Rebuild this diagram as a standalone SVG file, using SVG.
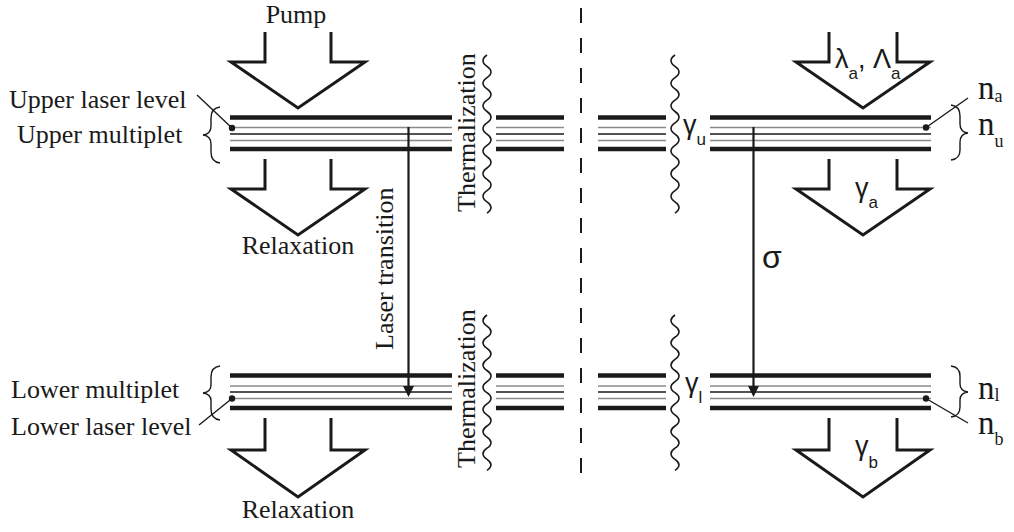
<svg xmlns="http://www.w3.org/2000/svg" width="1014" height="532" viewBox="0 0 1014 532">
  <style>
    .thick { stroke: #1a1a1a; stroke-width: 4.5; fill: none; }
    .gray { stroke: #8a8a8a; stroke-width: 1.3; fill: none; }
    .thin { stroke: #1a1a1a; stroke-width: 1.3; fill: none; }
    .outline { stroke: #1a1a1a; stroke-width: 3; fill: none; stroke-linejoin: miter; }
    .wave { stroke: #1a1a1a; stroke-width: 1.6; fill: none; }
    .brace { stroke: #1a1a1a; stroke-width: 1.4; fill: none; }
    .lead { stroke: #1a1a1a; stroke-width: 1.4; fill: none; }
    .vline { stroke: #1a1a1a; stroke-width: 2.2; fill: none; }
    .serif { font-family: "Liberation Serif", "Times New Roman", serif; font-size: 26px; fill: #1a1a1a; }
    .nlab { font-family: "Liberation Serif", "Times New Roman", serif; font-size: 33px; fill: #1a1a1a; }
    .nsub { font-family: "Liberation Serif", "Times New Roman", serif; font-size: 18px; fill: #1a1a1a; }
    .greek { font-family: "Liberation Sans", "DejaVu Sans", sans-serif; font-size: 27px; fill: #1a1a1a; }
    .gsub { font-family: "Liberation Sans", "DejaVu Sans", sans-serif; font-size: 17px; fill: #1a1a1a; }
  </style>

  <!-- divider between the level scheme and the rate model -->
  <line x1="581" y1="8" x2="581" y2="473" stroke="#1a1a1a" stroke-width="2" stroke-dasharray="15 15"/>

  <!-- upper multiplet, left scheme -->
  <g id="upper-left-band">
    <line class="thick" x1="230" y1="117.5" x2="452" y2="117.5"/>
    <line class="gray" x1="230" y1="127.5" x2="452" y2="127.5"/>
    <line class="thin" x1="230" y1="134" x2="452" y2="134"/>
    <line class="gray" x1="230" y1="140.5" x2="452" y2="140.5"/>
    <line class="thick" x1="230" y1="149" x2="452" y2="149"/>
  </g>
  <g id="upper-mid-left-band">
    <line class="thick" x1="496" y1="117.5" x2="564" y2="117.5"/>
    <line class="gray" x1="496" y1="127.5" x2="564" y2="127.5"/>
    <line class="thin" x1="496" y1="134" x2="564" y2="134"/>
    <line class="gray" x1="496" y1="140.5" x2="564" y2="140.5"/>
    <line class="thick" x1="496" y1="149" x2="564" y2="149"/>
  </g>
  <g id="upper-mid-right-band">
    <line class="thick" x1="598" y1="117.5" x2="666" y2="117.5"/>
    <line class="gray" x1="598" y1="127.5" x2="666" y2="127.5"/>
    <line class="thin" x1="598" y1="134" x2="666" y2="134"/>
    <line class="gray" x1="598" y1="140.5" x2="666" y2="140.5"/>
    <line class="thick" x1="598" y1="149" x2="666" y2="149"/>
  </g>
  <g id="upper-right-band">
    <line class="thick" x1="710" y1="117.5" x2="931" y2="117.5"/>
    <line class="gray" x1="710" y1="127.5" x2="931" y2="127.5"/>
    <line class="thin" x1="710" y1="134" x2="931" y2="134"/>
    <line class="gray" x1="710" y1="140.5" x2="931" y2="140.5"/>
    <line class="thick" x1="710" y1="149" x2="931" y2="149"/>
  </g>

  <!-- lower multiplet -->
  <g id="lower-left-band">
    <line class="thick" x1="230" y1="375.5" x2="452" y2="375.5"/>
    <line class="gray" x1="230" y1="386" x2="452" y2="386"/>
    <line class="thin" x1="230" y1="392" x2="452" y2="392"/>
    <line class="gray" x1="230" y1="398.5" x2="452" y2="398.5"/>
    <line class="thick" x1="230" y1="408" x2="452" y2="408"/>
  </g>
  <g id="lower-mid-left-band">
    <line class="thick" x1="496" y1="375.5" x2="564" y2="375.5"/>
    <line class="gray" x1="496" y1="386" x2="564" y2="386"/>
    <line class="thin" x1="496" y1="392" x2="564" y2="392"/>
    <line class="gray" x1="496" y1="398.5" x2="564" y2="398.5"/>
    <line class="thick" x1="496" y1="408" x2="564" y2="408"/>
  </g>
  <g id="lower-mid-right-band">
    <line class="thick" x1="598" y1="375.5" x2="666" y2="375.5"/>
    <line class="gray" x1="598" y1="386" x2="666" y2="386"/>
    <line class="thin" x1="598" y1="392" x2="666" y2="392"/>
    <line class="gray" x1="598" y1="398.5" x2="666" y2="398.5"/>
    <line class="thick" x1="598" y1="408" x2="666" y2="408"/>
  </g>
  <g id="lower-right-band">
    <line class="thick" x1="710" y1="375.5" x2="931" y2="375.5"/>
    <line class="gray" x1="710" y1="386" x2="931" y2="386"/>
    <line class="thin" x1="710" y1="392" x2="931" y2="392"/>
    <line class="gray" x1="710" y1="398.5" x2="931" y2="398.5"/>
    <line class="thick" x1="710" y1="408" x2="931" y2="408"/>
  </g>

  <!-- thermalization wavy lines -->
  <g id="waves">
    <path class="wave" d="M487,55 q-8,5.65 0,11.3 t0,11.3 t0,11.3 t0,11.3 t0,11.3 t0,11.3 t0,11.3 t0,11.3 t0,11.3 t0,11.3 t0,11.3 t0,11.3 t0,11.3 t0,11.3"/>
    <path class="wave" d="M487,315 q-8,5.55 0,11.1 t0,11.1 t0,11.1 t0,11.1 t0,11.1 t0,11.1 t0,11.1 t0,11.1 t0,11.1 t0,11.1 t0,11.1 t0,11.1 t0,11.1 t0,11.1"/>
    <path class="wave" d="M675,55 q-8,5.65 0,11.3 t0,11.3 t0,11.3 t0,11.3 t0,11.3 t0,11.3 t0,11.3 t0,11.3 t0,11.3 t0,11.3 t0,11.3 t0,11.3 t0,11.3 t0,11.3"/>
    <path class="wave" d="M675,315 q-8,5.55 0,11.1 t0,11.1 t0,11.1 t0,11.1 t0,11.1 t0,11.1 t0,11.1 t0,11.1 t0,11.1 t0,11.1 t0,11.1 t0,11.1 t0,11.1 t0,11.1"/>
  </g>

  <!-- block arrows: pumping and relaxation -->
  <g id="pump-arrow"><path class="outline" d="M265,32 V62 H231 L298,108 L365,62 H331 V32"/></g>
  <g id="upper-relax-arrow"><path class="outline" d="M265,159 V189 H231 L298,235 L365,189 H331 V159"/></g>
  <g id="lower-relax-arrow"><path class="outline" d="M265,418 V450 H231 L298,497 L365,450 H331 V418"/></g>
  <g id="rate-a-in-arrow"><path class="outline" d="M829,32 V62 H796 L863,108 L930,62 H897 V32"/></g>
  <g id="rate-a-out-arrow"><path class="outline" d="M829,159 V189 H796 L863,235 L930,189 H897 V159"/></g>
  <g id="rate-b-out-arrow"><path class="outline" d="M829,418 V450 H796 L863,497 L930,450 H897 V418"/></g>

  <!-- transitions -->
  <g id="connectors">
    <line class="vline" x1="408.5" y1="127" x2="408.5" y2="388"/>
    <polygon points="403,386 414,386 408.5,397" fill="#1a1a1a"/>
    <line class="vline" x1="753.5" y1="127" x2="753.5" y2="388"/>
    <polygon points="748,386 759,386 753.5,397" fill="#1a1a1a"/>
    <!-- leader lines to the marked levels -->
    <line class="lead" x1="197" y1="95" x2="232" y2="128"/>
    <line class="lead" x1="199" y1="425" x2="232" y2="398.5"/>
    <line class="lead" x1="968" y1="98" x2="926" y2="127.5"/>
    <line class="lead" x1="968" y1="423" x2="926" y2="398.5"/>
    <circle cx="232" cy="128" r="3.2" fill="#1a1a1a"/>
    <circle cx="232" cy="398.5" r="3.2" fill="#1a1a1a"/>
    <circle cx="926" cy="127.5" r="3.2" fill="#1a1a1a"/>
    <circle cx="926" cy="398.5" r="3.2" fill="#1a1a1a"/>
  </g>

  <!-- braces -->
  <g id="braces">
    <path class="brace" d="M220,107 Q211,108 211,118 L211,126 Q211,134 203,135 Q211,136 211,144 L211,152 Q211,162 220,163"/>
    <path class="brace" d="M220,366 Q211,367 211,377 L211,385 Q211,392 203,393 Q211,394 211,401 L211,409 Q211,419 220,420"/>
    <path class="brace" d="M951,105 Q960,106 960,116 L960,124 Q960,132 968,133 Q960,134 960,142 L960,150 Q960,159 951,160"/>
    <path class="brace" d="M951,366 Q960,367 960,376 L960,384 Q960,391 968,392 Q960,393 960,400 L960,407 Q960,416 951,417"/>
  </g>

  <!-- left labels -->
  <g id="labels-left">
    <text class="serif" x="296" y="23" text-anchor="middle">Pump</text>
    <text class="serif" x="9" y="108">Upper laser level</text>
    <text class="serif" x="17" y="143">Upper multiplet</text>
    <text class="serif" x="298" y="254" text-anchor="middle">Relaxation</text>
    <text class="serif" x="11" y="398">Lower multiplet</text>
    <text class="serif" x="11" y="435">Lower laser level</text>
    <text class="serif" x="298" y="518" text-anchor="middle">Relaxation</text>
    <text class="serif" transform="translate(393,350) rotate(-90)">Laser transition</text>
    <text class="serif" transform="translate(475,212) rotate(-90)">Thermalization</text>
    <text class="serif" transform="translate(475,468) rotate(-90)">Thermalization</text>
  </g>

  <!-- right labels -->
  <g id="labels-right">
    <text class="greek" x="835" y="68">λ<tspan class="gsub" dy="11">a</tspan><tspan dy="-11">,</tspan> Λ<tspan class="gsub" dy="11">a</tspan></text>
    <text class="greek" x="683" y="134">γ<tspan class="gsub" dy="11">u</tspan></text>
    <text class="greek" x="685" y="392">γ<tspan class="gsub" dy="11">l</tspan></text>
    <text class="greek" x="855" y="197">γ<tspan class="gsub" dy="11">a</tspan></text>
    <text class="greek" x="855" y="455">γ<tspan class="gsub" dy="13">b</tspan></text>
    <text class="greek" x="762" y="268" style="font-size:32px">σ</text>
    <text class="nlab" x="978" y="99">n<tspan class="nsub" dy="3">a</tspan></text>
    <text class="nlab" x="978" y="135">n<tspan class="nsub" dy="12">u</tspan></text>
    <text class="nlab" x="978" y="399">n<tspan class="nsub" dy="2">l</tspan></text>
    <text class="nlab" x="978" y="434">n<tspan class="nsub" dy="11">b</tspan></text>
  </g>
</svg>
